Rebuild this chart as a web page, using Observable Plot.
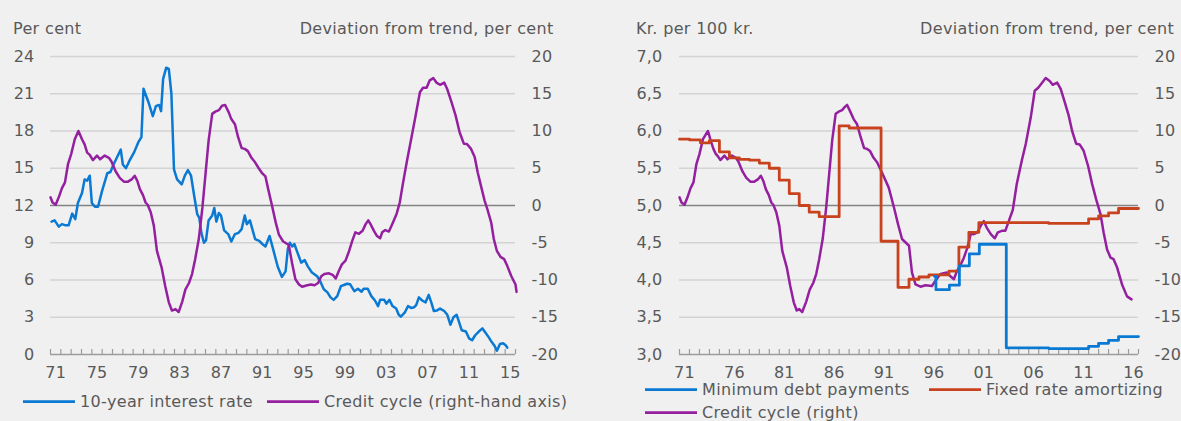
<!DOCTYPE html>
<html>
<head>
<meta charset="utf-8">
<script src="https://cdn.jsdelivr.net/npm/d3@7"></script>
<script src="https://cdn.jsdelivr.net/npm/@observablehq/plot@0.6"></script>
<style>
  html, body { margin: 0; padding: 0; background: #f0f0f0; }
  #root { position: relative; width: 1181px; height: 421px; overflow: hidden;
          font-family: "DejaVu Sans", sans-serif; font-size: 16px; color: #595959; }
  .abs { position: absolute; white-space: nowrap; line-height: 16px; letter-spacing: 0.35px; }
  .legend { position: absolute; white-space: nowrap; line-height: 16px; display: flex; align-items: flex-start; letter-spacing: 0.35px; }
  .legend svg { display: block; }
</style>
</head>
<body>
<div id="root"></div>
<script>
// ---------------- DATA ----------------
// Left panel: 10-year interest rate (per cent)
const rateYears = [1971.1,1971.4,1971.8,1972.1,1972.45,1972.75,1973.1,1973.4,1973.65,1974.05,1974.3,1974.55,1974.8,1975.0,1975.3,1975.6,1976.0,1976.5,1976.8,1977.1,1977.45,1977.8,1978.0,1978.3,1978.7,1979.1,1979.5,1979.8,1980.0,1980.45,1980.9,1981.2,1981.5,1981.7,1981.9,1982.2,1982.45,1982.7,1982.95,1983.25,1983.7,1984.0,1984.3,1984.6,1984.9,1985.2,1985.4,1985.6,1985.85,1986.05,1986.3,1986.65,1986.85,1987.05,1987.3,1987.5,1987.8,1988.2,1988.5,1988.85,1989.2,1989.5,1989.8,1990.0,1990.3,1990.5,1990.8,1991.2,1991.5,1991.8,1992.2,1992.6,1993.0,1993.4,1993.75,1993.97,1994.16,1994.4,1994.6,1994.9,1995.26,1995.6,1995.9,1996.3,1996.8,1997.1,1997.45,1997.8,1998.1,1998.4,1998.75,1999.1,1999.4,1999.7,2000.0,2000.4,2000.75,2001.1,2001.3,2001.7,2002.05,2002.4,2002.7,2002.9,2003.3,2003.5,2003.8,2004.1,2004.45,2004.7,2004.9,2005.3,2005.6,2005.9,2006.2,2006.4,2006.65,2006.97,2007.3,2007.6,2007.85,2008.1,2008.4,2008.7,2009.1,2009.4,2009.7,2010.0,2010.3,2010.5,2010.8,2011.2,2011.5,2011.8,2012.1,2012.45,2012.8,2013.1,2013.4,2013.7,2013.97,2014.2,2014.5,2014.8,2015.05,2015.2];
const rateValues = [10.7,10.8,10.3,10.5,10.4,10.4,11.35,10.9,12.2,13.0,14.1,14.0,14.4,12.2,11.9,11.9,13.2,14.6,14.7,15.3,15.9,16.5,15.3,15.0,15.7,16.3,17.1,17.5,21.4,20.4,19.2,20.0,20.1,19.6,22.2,23.1,23.0,21.0,14.9,14.1,13.7,14.4,14.85,14.4,12.8,11.3,11.0,9.8,9.0,9.2,10.8,11.2,11.8,10.7,11.4,11.2,10.0,9.7,9.1,9.7,9.8,10.1,11.2,10.5,10.8,10.2,9.3,9.15,8.9,8.7,9.55,8.3,7.05,6.25,6.7,8.5,9.0,8.7,8.9,8.2,7.4,7.6,7.1,6.6,6.3,5.9,5.25,5.0,4.6,4.4,4.7,5.5,5.6,5.7,5.65,5.1,5.3,5.05,5.3,5.3,4.7,4.35,3.9,4.4,4.4,4.1,4.4,3.9,3.7,3.2,3.05,3.4,3.9,3.75,3.8,4.0,4.6,4.35,4.2,4.8,4.2,3.5,3.55,3.7,3.5,3.2,2.4,3.0,3.2,2.7,1.95,1.85,1.3,1.15,1.55,1.85,2.1,1.75,1.4,1.0,0.7,0.3,0.85,0.9,0.75,0.55];

// Left panel: credit cycle (deviation from trend, per cent)
const creditLeftYears = [1971.0,1971.2,1971.5,1971.8,1972.1,1972.4,1972.7,1973.0,1973.35,1973.7,1974.05,1974.3,1974.55,1974.8,1975.1,1975.5,1975.8,1976.25,1976.65,1976.9,1977.3,1977.7,1978.1,1978.5,1978.85,1979.15,1979.4,1979.65,1979.95,1980.2,1980.4,1980.7,1981.0,1981.3,1981.75,1982.1,1982.45,1982.75,1983.1,1983.4,1983.75,1984.05,1984.4,1984.7,1985.0,1985.35,1985.7,1986.0,1986.3,1986.65,1986.95,1987.3,1987.6,1987.9,1988.25,1988.5,1988.85,1989.15,1989.5,1989.8,1990.1,1990.45,1990.8,1991.15,1991.5,1991.8,1992.05,1992.4,1992.8,1993.1,1993.5,1994.06,1994.4,1994.7,1995.05,1995.35,1995.85,1996.2,1996.55,1996.9,1997.2,1997.5,1997.95,1998.3,1998.6,1998.9,1999.2,1999.55,1999.9,2000.2,2000.5,2000.85,2001.2,2001.5,2001.75,2001.97,2002.3,2002.6,2002.9,2003.1,2003.4,2003.75,2004.1,2004.5,2004.8,2005.1,2005.5,2005.9,2006.3,2006.75,2007.05,2007.4,2007.7,2008.05,2008.35,2008.7,2009.1,2009.4,2009.8,2010.2,2010.6,2011.0,2011.3,2011.7,2012.05,2012.35,2012.7,2013.0,2013.3,2013.65,2013.9,2014.2,2014.55,2014.9,2015.2,2015.6,2016.0,2016.1];
const creditLeftValues = [1.1,0.4,0.1,1.1,2.3,3.1,5.6,6.9,8.9,10.0,8.9,8.2,7.1,6.8,6.1,6.7,6.2,6.7,6.4,5.9,4.6,3.7,3.2,3.2,3.5,4.0,3.3,2.2,1.4,0.4,0.1,-0.9,-2.7,-6.1,-8.3,-10.8,-13.0,-14.1,-13.9,-14.3,-12.9,-11.3,-10.4,-9.2,-7.2,-4.5,-0.3,4.2,8.7,12.3,12.6,12.8,13.4,13.5,12.5,11.6,10.9,9.2,7.7,7.6,7.3,6.4,5.8,5.0,4.3,3.9,2.3,0.2,-2.3,-3.9,-4.8,-5.3,-7.9,-9.9,-10.6,-10.9,-10.7,-10.6,-10.7,-10.4,-9.5,-9.2,-9.1,-9.3,-9.8,-8.8,-7.9,-7.4,-6.1,-4.75,-3.6,-3.8,-3.4,-2.5,-2.0,-2.5,-3.4,-4.1,-4.4,-3.6,-3.3,-3.5,-2.4,-1.1,0.4,2.9,6.0,8.9,11.8,15.2,15.8,15.8,16.8,17.1,16.5,16.2,16.5,15.6,13.9,12.1,9.8,8.3,8.25,7.6,6.5,4.4,2.4,0.7,-0.6,-2.3,-4.5,-6.1,-6.9,-7.2,-8.1,-9.5,-10.6,-11.6];

// Right panel: credit cycle (right axis)
const creditRightYears = [1971.0,1971.2,1971.5,1971.8,1972.1,1972.4,1972.7,1973.0,1973.35,1973.85,1974.15,1974.4,1974.6,1974.85,1975.1,1975.5,1975.8,1976.25,1976.65,1976.9,1977.3,1977.7,1978.1,1978.5,1978.85,1979.15,1979.4,1979.65,1979.95,1980.2,1980.4,1980.7,1981.0,1981.3,1981.75,1982.1,1982.45,1982.75,1983.0,1983.3,1983.7,1984.05,1984.4,1984.7,1985.0,1985.35,1985.7,1986.0,1986.3,1986.65,1986.95,1987.3,1987.55,1987.8,1988.15,1988.45,1988.8,1989.15,1989.5,1989.8,1990.1,1990.45,1990.8,1991.3,1991.97,1992.5,1992.9,1993.3,1994.0,1994.3,1994.65,1995.15,1995.65,1996.3,1996.7,1997.15,1997.8,1998.15,1998.5,1998.8,1999.2,1999.5,1999.85,2000.2,2000.5,2000.85,2001.2,2001.5,2001.8,2002.2,2002.6,2002.9,2003.3,2003.65,2004.0,2004.4,2004.8,2005.3,2005.7,2006.2,2006.6,2006.95,2007.3,2007.7,2008.1,2008.4,2008.85,2009.2,2009.6,2010.0,2010.35,2010.75,2011.1,2011.5,2011.95,2012.35,2012.75,2013.2,2013.5,2013.85,2014.2,2014.5,2014.85,2015.35,2015.85,2016.3];
const creditRightValues = [1.1,0.4,0.1,1.1,2.3,3.1,5.6,6.9,8.9,10.0,8.6,7.6,7.0,6.6,6.1,6.7,6.2,6.7,6.4,5.9,4.6,3.7,3.2,3.2,3.5,4.0,3.3,2.2,1.4,0.4,0.1,-0.9,-2.7,-6.1,-8.3,-10.8,-13.0,-14.1,-13.9,-14.3,-12.9,-11.3,-10.4,-9.2,-7.2,-4.5,-0.3,4.2,8.7,12.3,12.6,12.8,13.2,13.5,12.5,11.6,10.9,9.2,7.7,7.6,7.3,6.4,5.8,4.4,2.4,-0.3,-2.5,-4.5,-5.4,-9.0,-10.6,-10.9,-10.7,-10.8,-10.0,-9.2,-9.0,-9.5,-9.9,-8.8,-7.9,-7.0,-5.65,-3.8,-3.85,-3.6,-2.7,-2.1,-3.0,-3.85,-4.4,-3.6,-3.4,-3.4,-2.1,-0.6,2.9,6.0,8.25,11.8,15.4,15.8,16.4,17.1,16.7,16.2,16.5,15.65,13.9,12.1,10.0,8.3,8.2,7.35,5.3,2.9,0.85,-1.2,-3.6,-5.9,-7.0,-7.2,-8.3,-10.6,-12.2,-12.6];

// Right panel: fixed rate amortizing (kr. per 100 kr.), step changes
const fixedYears = [1971,1972,1973.1,1974,1975,1976,1977,1978,1979,1980,1981,1982,1983,1984,1985,1987,1988,1991.2,1992.9,1994,1995,1996,1998,1999,2000,2001,2008,2012,2013,2014,2015,2017];
const fixedValues = [5.89,5.88,5.84,5.87,5.72,5.64,5.62,5.61,5.57,5.50,5.34,5.16,5.00,4.91,4.85,6.07,6.04,4.52,3.90,4.01,4.04,4.07,4.12,4.44,4.64,4.77,4.76,4.82,4.86,4.90,4.96,4.96];

// Right panel: minimum debt payments, step changes
const minYears = [1996.55,1996.7,1998.05,1999.05,2000.05,2001.05,2003.75,2008,2012,2013,2014,2015,2017];
const minValues = [4.05,3.87,3.93,4.19,4.35,4.48,3.09,3.08,3.11,3.15,3.19,3.24,3.24];

// Axis ticks & labels
const leftYTicks = [0,3,6,9,12,15,18,21,24];
const leftYLabels = ["0","3","6","9","12","15","18","21","24"];
const rightYTicks = [3.0,3.5,4.0,4.5,5.0,5.5,6.0,6.5,7.0];
const rightYLabels = ["3,0","3,5","4,0","4,5","5,0","5,5","6,0","6,5","7,0"];
const cycleLabels = ["-20","-15","-10","-5","0","5","10","15","20"];
const leftXYears = [1971,1975,1979,1983,1987,1991,1995,1999,2003,2007,2011,2015];
const leftXLabels = ["71","75","79","83","87","91","95","99","03","07","11","15"];
const rightXYears = [1971,1976,1981,1986,1991,1996,2001,2006,2011,2016];
const rightXLabels = ["71","76","81","86","91","96","01","06","11","16"];

// Text
const titles = {
  leftUnit: "Per cent", leftRight: "Deviation from trend, per cent",
  rightUnit: "Kr. per 100 kr.", rightRight: "Deviation from trend, per cent"
};
const legendLeft = ["10-year interest rate", "Credit cycle (right-hand axis)"];
const legendRight = ["Minimum debt payments", "Fixed rate amortizing", "Credit cycle (right)"];

// ---------------- STYLE ----------------
const BLUE = "#0a79d3", PURPLE = "#9420a0", RED = "#c8421e";
const GRID = "#d3d3d3", ZERO = "#828282", AXIS = "#9c9c9c", TEXT = "#595959";

const zip = (xs, ys) => xs.map((x, i) => ({x, v: ys[i]}));
const rate = zip(rateYears, rateValues);
const creditL = zip(creditLeftYears, creditLeftValues);
const creditR = zip(creditRightYears, creditRightValues);
const fixed = zip(fixedYears, fixedValues);
const minPay = zip(minYears, minValues);

const common = {
  height: 345, marginTop: 16, marginBottom: 31,
  style: {background: "transparent", fontFamily: "DejaVu Sans", fontSize: "16px", color: TEXT, overflow: "visible", letterSpacing: "0.2px"}
};

// Left panel
const leftPlot = Plot.plot({
  ...common,
  width: 590, marginLeft: 50, marginRight: 75,
  x: {domain: [1971, 2016]},
  y: {domain: [0, 24]},
  marks: [
    Plot.ruleY(leftYTicks.filter(d => d !== 0 && d !== 12), {stroke: GRID, strokeWidth: 1.4}),
    Plot.ruleY([12], {stroke: ZERO, strokeWidth: 1.5}),
    Plot.ruleY([0], {stroke: AXIS, strokeWidth: 1.4}),
    Plot.ruleX(d3.range(1971, 2017), {x: d => d, y1: 0, y2: 0, insetTop: -5, stroke: AXIS, strokeWidth: 1.2}),
    Plot.axisX({ticks: leftXYears.map(y => y + 0.5), tickSize: 0, tickPadding: 12, label: null,
      tickFormat: d => leftXLabels[leftXYears.indexOf(d - 0.5)]}),
    Plot.axisY({anchor: "left", ticks: leftYTicks, tickSize: 0, tickPadding: 16, label: null,
      tickFormat: d => leftYLabels[leftYTicks.indexOf(d)]}),
    Plot.axisY({anchor: "right", ticks: leftYTicks, tickSize: 0, tickPadding: 16, label: null,
      tickFormat: d => cycleLabels[leftYTicks.indexOf(d)]}),
    Plot.line(rate, {x: "x", y: "v", stroke: BLUE, strokeWidth: 2.5}),
    Plot.line(creditL, {x: "x", y: d => 12 + 0.6 * d.v, stroke: PURPLE, strokeWidth: 2.5})
  ]
});

// Right panel
const rightPlot = Plot.plot({
  ...common,
  width: 591, marginLeft: 89, marginRight: 43,
  x: {domain: [1971, 2017]},
  y: {domain: [3, 7]},
  marks: [
    Plot.ruleY(rightYTicks.filter(d => d !== 3 && d !== 5), {stroke: GRID, strokeWidth: 1.4}),
    Plot.ruleY([5], {stroke: ZERO, strokeWidth: 1.5}),
    Plot.ruleY([3], {stroke: AXIS, strokeWidth: 1.4}),
    Plot.ruleX(d3.range(1971, 2018), {x: d => d, y1: 3, y2: 3, insetTop: -5, stroke: AXIS, strokeWidth: 1.2}),
    Plot.axisX({ticks: rightXYears.map(y => y + 0.5), tickSize: 0, tickPadding: 12, label: null,
      tickFormat: d => rightXLabels[rightXYears.indexOf(d - 0.5)]}),
    Plot.axisY({anchor: "left", ticks: rightYTicks, tickSize: 0, tickPadding: 17, label: null,
      tickFormat: d => rightYLabels[rightYTicks.indexOf(d)]}),
    Plot.axisY({anchor: "right", ticks: rightYTicks, tickSize: 0, tickPadding: 16, label: null,
      tickFormat: d => cycleLabels[rightYTicks.indexOf(d)]}),
    Plot.line(creditR, {x: "x", y: d => 5 + d.v / 10, stroke: PURPLE, strokeWidth: 2.5}),
    Plot.line(fixed, {x: "x", y: "v", curve: "step-after", stroke: RED, strokeWidth: 2.8}),
    Plot.line(minPay, {x: "x", y: "v", curve: "step-after", stroke: BLUE, strokeWidth: 2.8})
  ]
});

// ---------------- LAYOUT ----------------
const root = document.getElementById("root");
function place(el, left, top) {
  el.style.position = "absolute";
  el.style.left = left + "px";
  el.style.top = top + "px";
  root.appendChild(el);
}
place(leftPlot, 0, 40);
place(rightPlot, 590, 40);

function label(text, pos) {
  const d = document.createElement("div");
  d.className = "abs";
  d.textContent = text;
  Object.entries(pos).forEach(([k, v]) => d.style[k] = v + "px");
  root.appendChild(d);
}
label(titles.leftUnit, {left: 13, top: 20.5});
label(titles.leftRight, {right: 1181 - 553.6, top: 20.5});
label(titles.rightUnit, {left: 636, top: 20.5});
label(titles.rightRight, {right: 7, top: 20.5});

function legendItem(text, color, left, lineY) {
  const d = document.createElement("div");
  d.className = "legend";
  const ns = "http://www.w3.org/2000/svg";
  const s = document.createElementNS(ns, "svg");
  s.setAttribute("width", 57); s.setAttribute("height", 16);
  const l = document.createElementNS(ns, "line");
  l.setAttribute("x1", 0); l.setAttribute("x2", 52);
  l.setAttribute("y1", 7.7); l.setAttribute("y2", 7.7);
  l.setAttribute("stroke", color); l.setAttribute("stroke-width", 2.8);
  s.appendChild(l);
  const t = document.createElement("span");
  t.textContent = text;
  d.appendChild(s); d.appendChild(t);
  d.style.left = left + "px"; d.style.top = (lineY - 7.7) + "px";
  root.appendChild(d);
}
legendItem(legendLeft[0], BLUE, 23, 401.7);
legendItem(legendLeft[1], PURPLE, 267, 401.7);
legendItem(legendRight[0], BLUE, 645, 389.3);
legendItem(legendRight[1], RED, 929, 389.3);
legendItem(legendRight[2], PURPLE, 645, 412.3);
</script>
</body>
</html>
